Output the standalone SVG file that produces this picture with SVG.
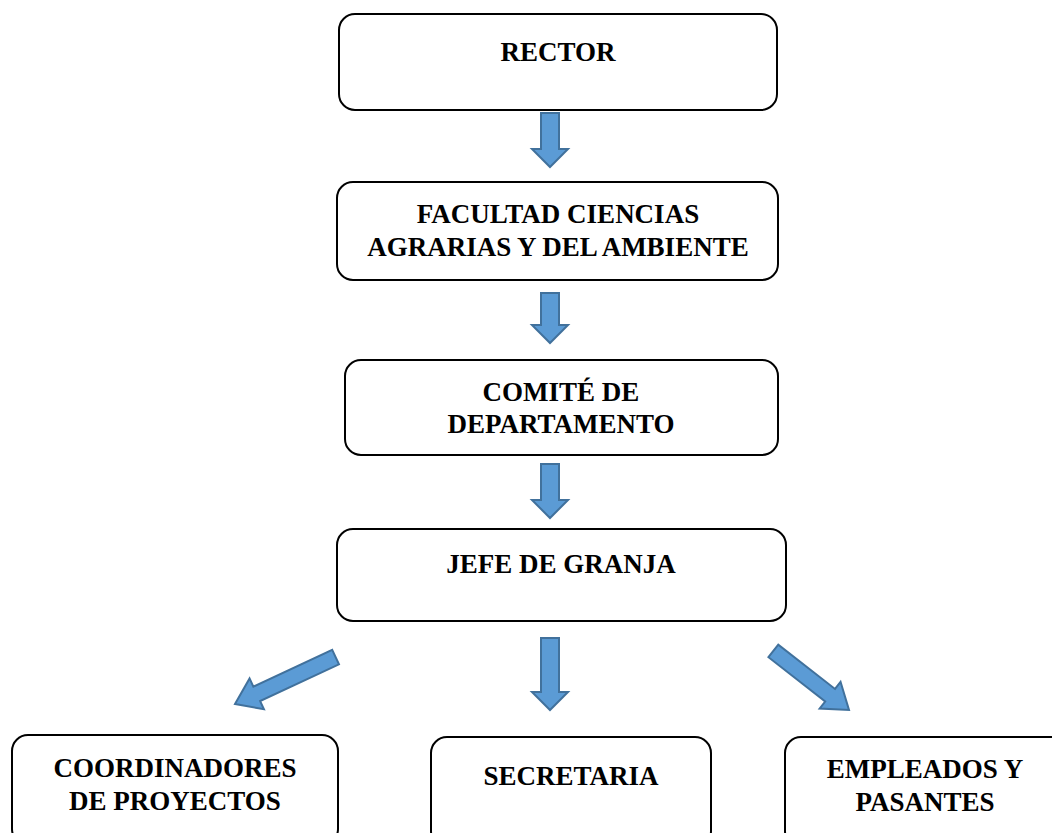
<svg xmlns="http://www.w3.org/2000/svg" width="1052" height="833" viewBox="0 0 1052 833">
<style>
.box{fill:#fff;stroke:#000;stroke-width:2}
.t{font-family:"Liberation Serif","Times New Roman",serif;font-weight:bold;font-size:27px;fill:#000;text-anchor:middle}
.arr{fill:#5B9BD5;stroke:#41719C;stroke-width:2;stroke-linejoin:miter}
</style>
<rect width="1052" height="833" fill="#fff"/>
<g id="connectors">
<polygon class="arr" points="541,113 559,113 559,149 568,149 550,167 532,149 541,149"/>
<polygon class="arr" points="541,293 559,293 559,325 568,325 550,343 532,325 541,325"/>
<polygon class="arr" points="541,464 559,464 559,500 568,500 550,518 532,500 541,500"/>
<polygon class="arr" points="541,638 559,638 559,692 568,692 550,710 532,692 541,692"/>
<polygon class="arr" transform="translate(235,704) rotate(65)" points="-8,-111 8,-111 8,-24 17,-24 0,0 -17,-24 -8,-24"/>
<polygon class="arr" transform="translate(849,710) rotate(-52)" points="-8,-96 8,-96 8,-24 17,-24 0,0 -17,-24 -8,-24"/>
</g>
<g id="rector"><rect class="box" x="339" y="14" width="438" height="96" rx="16"/><text class="t" x="558" y="61">RECTOR</text></g>
<g id="facultad"><rect class="box" x="337" y="182" width="441" height="98" rx="16"/><text class="t" x="558" y="223">FACULTAD CIENCIAS</text><text class="t" x="558" y="256">AGRARIAS Y DEL AMBIENTE</text></g>
<g id="comite"><rect class="box" x="345" y="360" width="433" height="95" rx="16"/><text class="t" x="561" y="401">COMITÉ DE</text><text class="t" x="561" y="433">DEPARTAMENTO</text></g>
<g id="jefe"><rect class="box" x="337" y="529" width="449" height="92" rx="16"/><text class="t" x="561" y="573">JEFE DE GRANJA</text></g>
<g id="coordinadores"><rect class="box" x="12" y="735" width="326" height="110" rx="16"/><text class="t" x="175" y="777">COORDINADORES</text><text class="t" x="175" y="810">DE PROYECTOS</text></g>
<g id="secretaria"><rect class="box" x="431" y="737" width="280" height="110" rx="16"/><text class="t" x="571" y="785">SECRETARIA</text></g>
<g id="empleados"><rect class="box" x="785" y="737" width="290" height="110" rx="16"/><text class="t" x="925" y="778">EMPLEADOS Y</text><text class="t" x="925" y="811">PASANTES</text></g>
</svg>
